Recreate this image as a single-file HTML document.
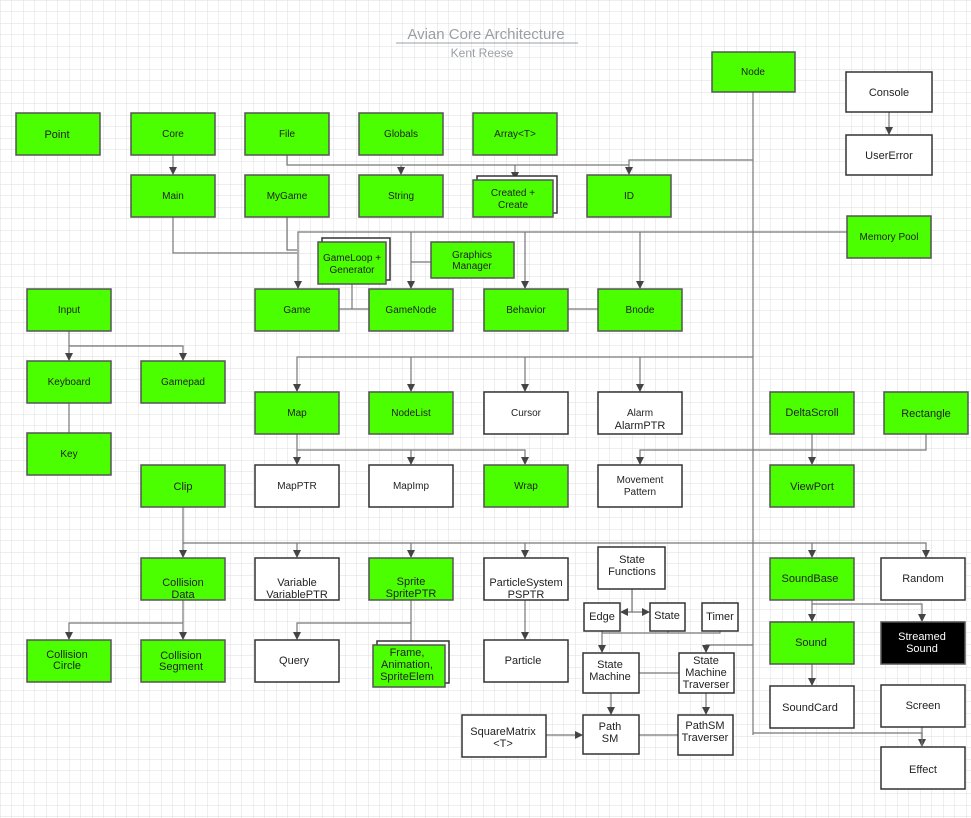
<!DOCTYPE html>
<html><head><meta charset="utf-8"><style>
html,body{margin:0;padding:0;background:#fff}
svg{display:block}
text{font-family:"Liberation Sans",sans-serif;font-size:10px;fill:#222;text-anchor:middle}
.g{fill:#4cff00;stroke:#555;stroke-width:1.5}
.w{fill:#fff;stroke:#333;stroke-width:1.5}
.k{fill:#000;stroke:#555;stroke-width:1.5}
.l{fill:none;stroke:#777;stroke-width:1.2}
</style></head><body>
<svg width="971" height="818" viewBox="0 0 971 818" xmlns="http://www.w3.org/2000/svg">
<defs>
<pattern id="grid" width="11.5" height="11.5" patternUnits="userSpaceOnUse"><path d="M11.5 0H0V11.5" fill="none" stroke="#dedede" stroke-width="1"/></pattern>
<marker id="a" markerWidth="8" markerHeight="8" refX="7" refY="4" orient="auto" markerUnits="userSpaceOnUse"><path d="M0,0 L8,4 L0,8z" fill="#444"/></marker>
</defs>
<rect width="971" height="818" fill="url(#grid)"/>
<text x="486" y="39" style="font-size:15px;fill:#9aa0a6">Avian Core Architecture</text>
<line x1="396" y1="43" x2="578" y2="43" stroke="#9aa0a6"/>
<text x="482" y="57" style="font-size:12px;fill:#9aa0a6">Kent Reese</text>

<g class="lines">
<path class="l" d="M753 92V735"/>
<path class="l" d="M753 160H629V174" marker-end="url(#a)"/>
<path class="l" d="M287 155V165H629"/>
<path class="l" d="M401 165V174" marker-end="url(#a)"/>
<path class="l" d="M515 165V179" marker-end="url(#a)"/>
<path class="l" d="M173 155V174" marker-end="url(#a)"/>
<path class="l" d="M889 112V134" marker-end="url(#a)"/>
<path class="l" d="M847 232H298V288" marker-end="url(#a)"/>
<path class="l" d="M411 232V288" marker-end="url(#a)"/>
<path class="l" d="M525 232V288" marker-end="url(#a)"/>
<path class="l" d="M640 232V288" marker-end="url(#a)"/>
<path class="l" d="M173 217V253H297"/>
<path class="l" d="M287 217V250H297"/>
<path class="l" d="M431 262H411"/>
<path class="l" d="M352 284V309M339 309H369"/>
<path class="l" d="M568 309H598"/>
<path class="l" d="M753 357H297V391" marker-end="url(#a)"/>
<path class="l" d="M411 357V391" marker-end="url(#a)"/>
<path class="l" d="M525 357V391" marker-end="url(#a)"/>
<path class="l" d="M640 357V391" marker-end="url(#a)"/>
<path class="l" d="M69 331V360" marker-end="url(#a)"/>
<path class="l" d="M69 346H183V360" marker-end="url(#a)"/>
<path class="l" d="M69 403V433"/>
<path class="l" d="M297 434V450H525V464" marker-end="url(#a)"/>
<path class="l" d="M297 450V464" marker-end="url(#a)"/>
<path class="l" d="M411 450V464" marker-end="url(#a)"/>
<path class="l" d="M753 450H640V464" marker-end="url(#a)"/>
<path class="l" d="M753 450H812"/>
<path class="l" d="M926 434V450H812"/>
<path class="l" d="M812 434V464" marker-end="url(#a)"/>
<path class="l" d="M183 507V557" marker-end="url(#a)"/>
<path class="l" d="M183 543H926V557" marker-end="url(#a)"/>
<path class="l" d="M297 543V557" marker-end="url(#a)"/>
<path class="l" d="M411 543V557" marker-end="url(#a)"/>
<path class="l" d="M525 543V557" marker-end="url(#a)"/>
<path class="l" d="M812 543V557" marker-end="url(#a)"/>
<path class="l" d="M183 600V639" marker-end="url(#a)"/>
<path class="l" d="M183 623H69V639" marker-end="url(#a)"/>
<path class="l" d="M411 600V623H297V639" marker-end="url(#a)"/>
<path class="l" d="M411 623V645"/>
<path class="l" d="M525 600V639" marker-end="url(#a)"/>
<path class="l" d="M632 589V612H621" marker-end="url(#a)"/>
<path class="l" d="M632 612H649" marker-end="url(#a)"/>
<path class="l" d="M602 631V652" marker-end="url(#a)"/>
<path class="l" d="M668 631V633H720V631M602 633H668"/>
<path class="l" d="M753 645H706V652" marker-end="url(#a)"/>
<path class="l" d="M639 673H679"/>
<path class="l" d="M611 693V714" marker-end="url(#a)"/>
<path class="l" d="M706 693V714" marker-end="url(#a)"/>
<path class="l" d="M639 735H678"/>
<path class="l" d="M546 735H582" marker-end="url(#a)"/>
<path class="l" d="M753 733H922V746" marker-end="url(#a)"/>
<path class="l" d="M922 727V746"/>
<path class="l" d="M812 600V621" marker-end="url(#a)"/>
<path class="l" d="M812 604H922V621" marker-end="url(#a)"/>
<path class="l" d="M812 664V685" marker-end="url(#a)"/>
</g>

<!-- stacked shadows -->
<rect class="w" x="477" y="176" width="80" height="37"/>
<rect class="w" x="322" y="238" width="68" height="42"/>
<rect class="w" x="377" y="641" width="72" height="42"/>

<g>
<rect class="g" x="712" y="52" width="83" height="40"/><text x="753" y="75">Node</text>
<rect class="w" x="846" y="72" width="86" height="40"/><text x="889" y="96" style="font-size:11px">Console</text>
<rect class="w" x="846" y="135" width="86" height="40"/><text x="889" y="159" style="font-size:11px">UserError</text>
<rect class="g" x="16" y="113" width="84" height="42"/><text x="57" y="138" style="font-size:11px">Point</text>
<rect class="g" x="131" y="113" width="84" height="42"/><text x="173" y="137">Core</text>
<rect class="g" x="245" y="113" width="84" height="42"/><text x="287" y="137">File</text>
<rect class="g" x="359" y="113" width="84" height="42"/><text x="401" y="137">Globals</text>
<rect class="g" x="473" y="113" width="84" height="42"/><text x="515" y="137">Array&lt;T&gt;</text>
<rect class="g" x="131" y="175" width="84" height="42"/><text x="173" y="199">Main</text>
<rect class="g" x="245" y="175" width="84" height="42"/><text x="287" y="199">MyGame</text>
<rect class="g" x="359" y="175" width="84" height="42"/><text x="401" y="199">String</text>
<rect class="g" x="473" y="180" width="80" height="37"/><text x="513" y="196">Created +</text><text x="513" y="208">Create</text>
<rect class="g" x="587" y="175" width="84" height="42"/><text x="629" y="199">ID</text>
<rect class="g" x="847" y="216" width="84" height="42"/><text x="889" y="240">Memory Pool</text>
<rect class="g" x="318" y="242" width="68" height="42"/><text x="352" y="261">GameLoop +</text><text x="352" y="273">Generator</text>
<rect class="g" x="431" y="242" width="83" height="36"/><text x="472" y="258">Graphics</text><text x="472" y="269">Manager</text>
<rect class="g" x="27" y="289" width="84" height="42"/><text x="69" y="313">Input</text>
<rect class="g" x="255" y="289" width="84" height="42"/><text x="297" y="313">Game</text>
<rect class="g" x="369" y="289" width="84" height="42"/><text x="411" y="313">GameNode</text>
<rect class="g" x="484" y="289" width="84" height="42"/><text x="526" y="313">Behavior</text>
<rect class="g" x="598" y="289" width="84" height="42"/><text x="640" y="313">Bnode</text>
<rect class="g" x="27" y="361" width="84" height="42"/><text x="69" y="385">Keyboard</text>
<rect class="g" x="141" y="361" width="84" height="42"/><text x="183" y="385">Gamepad</text>
<rect class="g" x="27" y="433" width="84" height="42"/><text x="69" y="457">Key</text>
<rect class="g" x="255" y="392" width="84" height="42"/><text x="297" y="416">Map</text>
<rect class="g" x="369" y="392" width="84" height="42"/><text x="411" y="416">NodeList</text>
<rect class="w" x="484" y="392" width="84" height="42"/><text x="526" y="416">Cursor</text>
<rect class="w" x="598" y="392" width="84" height="42"/><text x="640" y="416">Alarm</text><text x="640" y="429" style="font-size:11px">AlarmPTR</text>
<rect class="g" x="770" y="392" width="84" height="42"/><text x="812" y="416" style="font-size:11px">DeltaScroll</text>
<rect class="g" x="884" y="392" width="84" height="42"/><text x="926" y="417" style="font-size:11px">Rectangle</text>
<rect class="g" x="141" y="465" width="84" height="42"/><text x="183" y="490" style="font-size:11px">Clip</text>
<rect class="w" x="255" y="465" width="84" height="42"/><text x="297" y="489">MapPTR</text>
<rect class="w" x="369" y="465" width="84" height="42"/><text x="411" y="489">MapImp</text>
<rect class="g" x="484" y="465" width="84" height="42"/><text x="526" y="489">Wrap</text>
<rect class="w" x="598" y="465" width="84" height="42"/><text x="640" y="483">Movement</text><text x="640" y="495">Pattern</text>
<rect class="g" x="770" y="465" width="84" height="42"/><text x="812" y="490" style="font-size:11px">ViewPort</text>
<rect class="g" x="141" y="558" width="84" height="42"/><text x="183" y="586" style="font-size:11px">Collision</text><text x="183" y="598" style="font-size:11px">Data</text>
<rect class="w" x="255" y="558" width="84" height="42"/><text x="297" y="586" style="font-size:11px">Variable</text><text x="297" y="598" style="font-size:11px">VariablePTR</text>
<rect class="g" x="369" y="558" width="84" height="42"/><text x="411" y="585" style="font-size:11px">Sprite</text><text x="411" y="597" style="font-size:11px">SpritePTR</text>
<rect class="w" x="484" y="558" width="84" height="42"/><text x="526" y="586" style="font-size:11px">ParticleSystem</text><text x="526" y="598" style="font-size:11px">PSPTR</text>
<rect class="w" x="598" y="547" width="67" height="42"/><text x="632" y="563" style="font-size:11px">State</text><text x="632" y="575" style="font-size:11px">Functions</text>
<rect class="w" x="584" y="603" width="36" height="28"/><text x="602" y="620" style="font-size:11px">Edge</text>
<rect class="w" x="650" y="603" width="35" height="28"/><text x="667" y="619" style="font-size:11px">State</text>
<rect class="w" x="702" y="603" width="36" height="28"/><text x="720" y="620" style="font-size:11px">Timer</text>
<rect class="g" x="770" y="558" width="84" height="42"/><text x="810" y="582" style="font-size:11px">SoundBase</text>
<rect class="w" x="881" y="558" width="84" height="42"/><text x="923" y="582" style="font-size:11px">Random</text>
<rect class="g" x="27" y="640" width="84" height="42"/><text x="67" y="658" style="font-size:11px">Collision</text><text x="67" y="669" style="font-size:11px">Circle</text>
<rect class="g" x="141" y="640" width="84" height="42"/><text x="181" y="659" style="font-size:11px">Collision</text><text x="181" y="670" style="font-size:11px">Segment</text>
<rect class="w" x="255" y="640" width="84" height="42"/><text x="294" y="664" style="font-size:11px">Query</text>
<rect class="g" x="373" y="645" width="72" height="42"/><text x="407" y="656" style="font-size:11px">Frame,</text><text x="407" y="668" style="font-size:11px">Animation,</text><text x="407" y="680" style="font-size:11px">SpriteElem</text>
<rect class="w" x="484" y="640" width="84" height="42"/><text x="523" y="664" style="font-size:11px">Particle</text>
<rect class="w" x="583" y="653" width="56" height="40"/><text x="610" y="668" style="font-size:11px">State</text><text x="610" y="680" style="font-size:11px">Machine</text>
<rect class="w" x="679" y="653" width="55" height="40"/><text x="706" y="664" style="font-size:11px">State</text><text x="706" y="676" style="font-size:11px">Machine</text><text x="706" y="688" style="font-size:11px">Traverser</text>
<rect class="g" x="770" y="622" width="84" height="42"/><text x="811" y="646" style="font-size:11px">Sound</text>
<rect class="k" x="881" y="622" width="84" height="42"/><text x="922" y="640" style="font-size:11px;fill:#fff">Streamed</text><text x="922" y="652" style="font-size:11px;fill:#fff">Sound</text>
<rect class="w" x="770" y="686" width="84" height="42"/><text x="810" y="711" style="font-size:11px">SoundCard</text>
<rect class="w" x="881" y="685" width="84" height="42"/><text x="923" y="709" style="font-size:11px">Screen</text>
<rect class="w" x="462" y="715" width="84" height="42"/><text x="503" y="735" style="font-size:11px">SquareMatrix</text><text x="503" y="747" style="font-size:11px">&lt;T&gt;</text>
<rect class="w" x="583" y="715" width="56" height="39"/><text x="610" y="730" style="font-size:11px">Path</text><text x="610" y="742" style="font-size:11px">SM</text>
<rect class="w" x="678" y="715" width="55" height="40"/><text x="705" y="729" style="font-size:11px">PathSM</text><text x="705" y="741" style="font-size:11px">Traverser</text>
<rect class="w" x="881" y="747" width="84" height="42"/><text x="923" y="773" style="font-size:11px">Effect</text>
</g>
</svg>
</body></html>
